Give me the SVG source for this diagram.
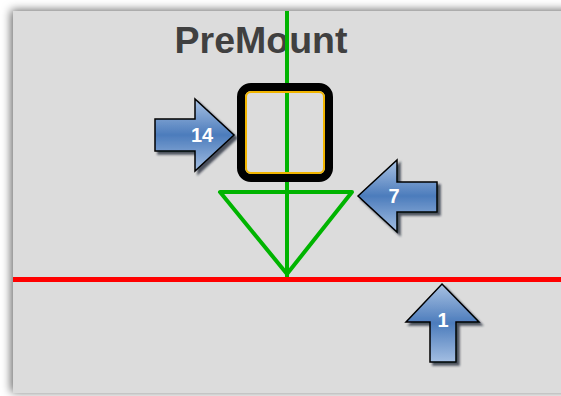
<svg xmlns="http://www.w3.org/2000/svg" width="561" height="396" viewBox="0 0 561 396">
<defs>
<filter id="panelShadow" x="-10%" y="-10%" width="120%" height="120%">
<feDropShadow dx="-2" dy="-1" stdDeviation="5" flood-color="#000" flood-opacity="0.6"/>
</filter>
<filter id="arrowShadow" x="-20%" y="-20%" width="150%" height="150%">
<feDropShadow dx="3" dy="3" stdDeviation="0.8" flood-color="#1a2233" flood-opacity="0.75"/>
</filter>
<linearGradient id="blue" x1="0" y1="0" x2="0" y2="1">
<stop offset="0" stop-color="#a9c2e3"/>
<stop offset="0.5" stop-color="#4c7cbc"/>
<stop offset="1" stop-color="#a3bee2"/>
</linearGradient>
<style>
.arrow{fill:url(#blue);stroke:#000;stroke-width:1.5;stroke-linejoin:miter;filter:url(#arrowShadow)}
.lbl{font-family:"Liberation Sans",Arial,sans-serif;font-weight:bold;font-size:20px;fill:#fff;text-anchor:middle}
.green{stroke:#00b400;stroke-width:4;fill:none}
</style>
</defs>
<rect width="561" height="396" fill="#ffffff"/>
<rect x="13" y="11" width="560" height="382" fill="#dcdcdc" filter="url(#panelShadow)"/>
<g id="title">
<text x="261" y="53" font-family="Liberation Sans, Arial, sans-serif" font-weight="bold" font-size="37.5" fill="#404040" text-anchor="middle">PreMount</text>
</g>
<g id="connectors">
<line x1="287" y1="11" x2="287" y2="277" class="green"/>
<line x1="13" y1="279.5" x2="561" y2="279.5" stroke="#ff0000" stroke-width="5"/>
</g>
<g id="triangle">
<polygon points="220,192 352,192 287,274" class="green" stroke-linejoin="round"/>
</g>
<g id="box">
<rect x="241" y="87" width="88" height="91" rx="10" fill="none" stroke="#000" stroke-width="8"/>
<rect x="246" y="92" width="78" height="81" rx="5" fill="none" stroke="#f0b400" stroke-width="2"/>
</g>
<g id="arrow14">
<path class="arrow" d="M155,119 L195,119 L195,99 L234,135 L195,171 L195,151 L155,151 Z"/>
<text class="lbl" x="202" y="142">14</text>
</g>
<g id="arrow7">
<path class="arrow" d="M358,196 L397,160 L397,182 L437,182 L437,212 L397,212 L397,232 Z"/>
<text class="lbl" x="394" y="203">7</text>
</g>
<g id="arrow1">
<path class="arrow" d="M442,284 L479,322 L456,322 L456,362 L430,362 L430,322 L406,322 Z"/>
<text class="lbl" x="443" y="327">1</text>
</g>
</svg>
